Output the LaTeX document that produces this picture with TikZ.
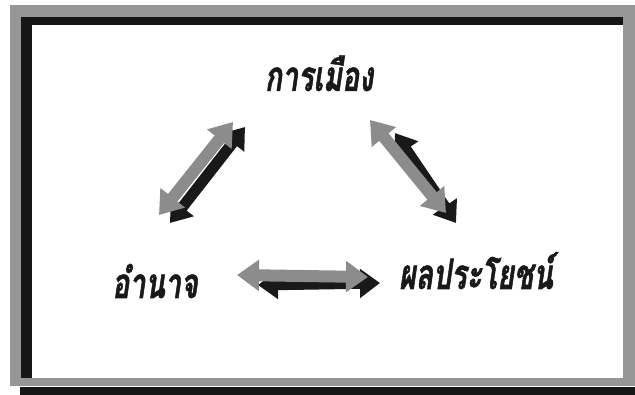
\documentclass[tikz,border=0pt]{standalone}
\usepackage{fontspec}
\newfontfamily\thaifont[Script=Thai,FakeStretch=0.68,FakeBold=1.2]{Loma}
\usetikzlibrary{arrows.meta}
\definecolor{framegray}{RGB}{150,150,150}
\definecolor{frameblack}{RGB}{22,22,22}
\definecolor{arrowgray}{RGB}{140,140,140}
\definecolor{arrowblack}{RGB}{25,25,25}
\tikzset{
  lab/.style={inner sep=0pt, font=\thaifont\bfseries\itshape\fontsize{42}{46}\selectfont, text=black!90},
  garrow/.style={draw=arrowgray, line width=12pt, {Triangle[width=30pt,length=22pt]}-{Triangle[width=30pt,length=22pt]}},
  barrow/.style={draw=arrowblack, line width=11pt, {Triangle[width=28pt,length=20pt]}-{Triangle[width=28pt,length=20pt]}}
}
\begin{document}
\begin{tikzpicture}[x=1pt,y=-1pt]
\useasboundingbox (0,0) rectangle (635,395);
\fill[white] (0,0) rectangle (635,395);
\fill[framegray] (10,5) rectangle (635,386);
\fill[frameblack] (21,17) rectangle (623,378);
\fill[white] (32,25) rectangle (623,378);
\fill[frameblack] (20,387) rectangle (635,395);

\node[lab, anchor=base] (pol) at (319,91) {การเมือง};
\node[lab, anchor=base] (pow) at (155,298) {อำนาจ};
\node[lab, anchor=base] (ben) at (476,289) {ผลประโยชน์};

% left pair
\coordinate (lb1) at (170,223); \coordinate (lb2) at (245,127);
\coordinate (lg1) at (159,215); \coordinate (lg2) at (233,122);
% right pair
\coordinate (rb1) at (395,133); \coordinate (rb2) at (456,223);
\coordinate (rg1) at (370,120); \coordinate (rg2) at (446,213);
% bottom pair
\coordinate (bb1) at (258,285); \coordinate (bb2) at (380,283);
\coordinate (bg1) at (237,275); \coordinate (bg2) at (368,277);

\draw[barrow] (lb1) -- (lb2);
\draw[garrow] (lg1) -- (lg2);
\draw[barrow] (rb1) -- (rb2);
\draw[garrow] (rg1) -- (rg2);
\draw[barrow] (bb1) -- (bb2);
\draw[garrow] (bg1) -- (bg2);
\end{tikzpicture}
\end{document}
